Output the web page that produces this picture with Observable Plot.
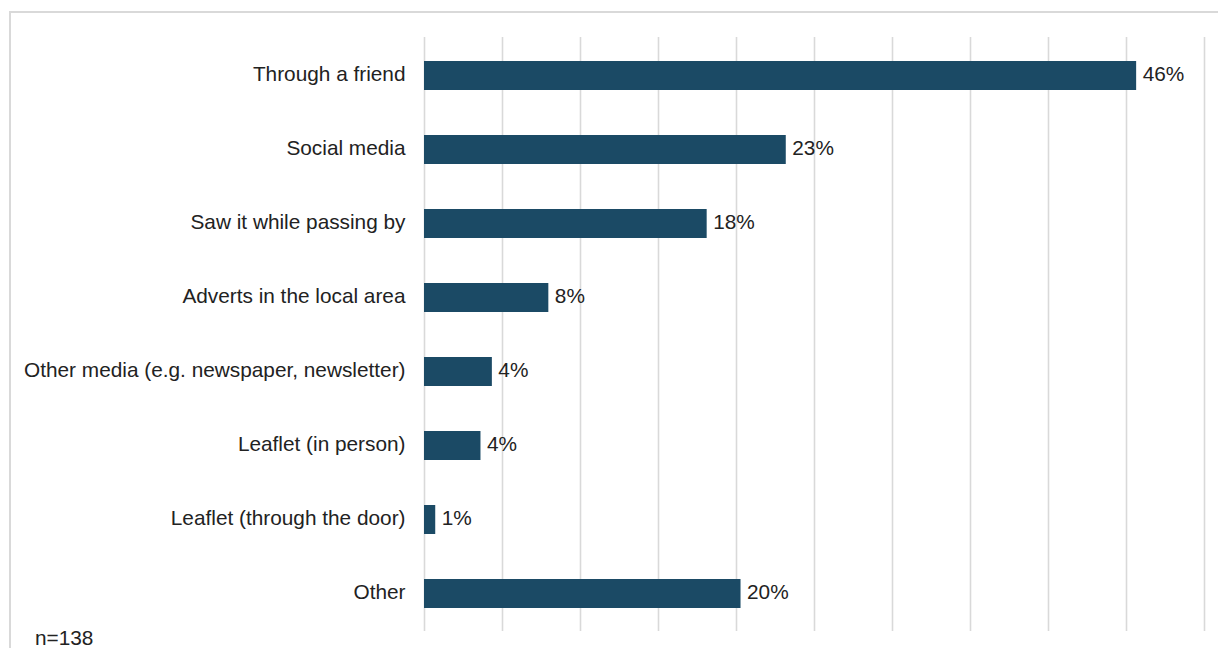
<!DOCTYPE html>
<html>
<head>
<meta charset="utf-8">
<script src="https://cdn.jsdelivr.net/npm/d3@7"></script>
<script src="https://cdn.jsdelivr.net/npm/@observablehq/plot@0.6"></script>
<style>
  html, body { margin: 0; padding: 0; background: #fff; overflow: hidden; }
  #wrap { position: relative; width: 1218px; height: 648px; overflow: hidden; font-family: "Liberation Sans", Arial, sans-serif; }
  #frame { position: absolute; left: 9px; top: 11px; width: 1400px; height: 900px; border: 2px solid #d9d9d9; box-sizing: border-box; }
  #chart { position: absolute; left: 0; top: 0; }
  #note { position: absolute; left: 35px; top: 628px; font-size: 20.8px; color: #222; line-height: 20px; }
</style>
</head>
<body>
<div id="wrap">
  <div id="frame"></div>
  <div id="chart"></div>
  <div id="note">n=138</div>
</div>
<script>
const categories = [
  "Through a friend",
  "Social media",
  "Saw it while passing by",
  "Adverts in the local area",
  "Other media (e.g. newspaper, newsletter)",
  "Leaflet (in person)",
  "Leaflet (through the door)",
  "Other"
];
const values = [45.65, 23.19, 18.12, 7.97, 4.35, 3.62, 0.72, 20.29];
const valueLabels = ["46%", "23%", "18%", "8%", "4%", "4%", "1%", "20%"];
const xTicks = [0, 5, 10, 15, 20, 25, 30, 35, 40, 45, 50];

const data = categories.map((c, i) => ({label: c, value: values[i], text: valueLabels[i]}));

const chart = Plot.plot({
  width: 1218,
  height: 648,
  marginLeft: 424,
  marginRight: 14,
  marginTop: 37,
  marginBottom: 17,
  style: {fontFamily: '"Liberation Sans", Arial, sans-serif', fontSize: "20.8px", color: "#222", background: "transparent"},
  x: {domain: [0, 50], axis: null},
  y: {domain: categories, paddingInner: 0.61, paddingOuter: 0.305, label: null},
  marks: [
    Plot.ruleX(xTicks, {stroke: "#d9d9d9", strokeWidth: 1.6}),
    Plot.barX(data, {x: "value", y: "label", fill: "#1b4a65"}),
    Plot.text(data, {x: "value", y: "label", text: "text", textAnchor: "start", dx: 6, dy: -1.5, fill: "#222", fontSize: 20.8}),
    Plot.axisY({tickSize: 0, tickPadding: 19, dy: -1.5, fontSize: 20.8, label: null})
  ]
});
document.getElementById("chart").appendChild(chart);
</script>
</body>
</html>
